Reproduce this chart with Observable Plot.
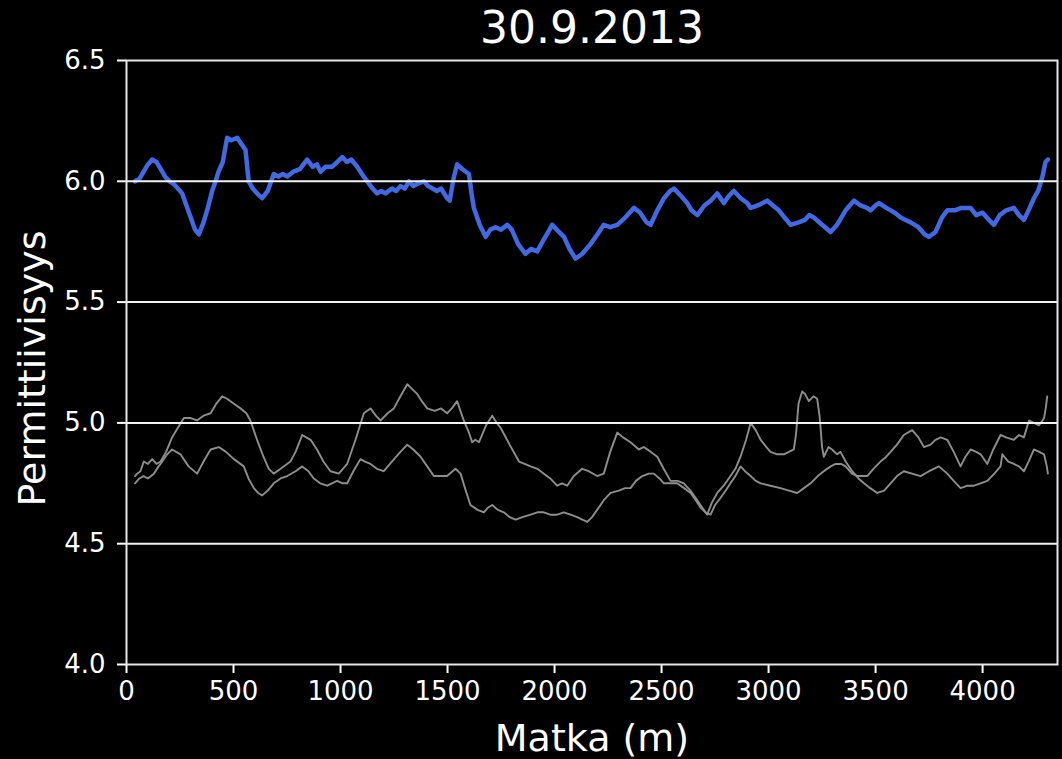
<!DOCTYPE html>
<html>
<head>
<meta charset="utf-8">
<script src="https://cdn.jsdelivr.net/npm/d3@7"></script>
<script src="https://cdn.jsdelivr.net/npm/@observablehq/plot@0.6"></script>
<style>
  html, body { margin: 0; padding: 0; background: #000; }
  #chart svg [aria-label^="x-axis"] path,
  #chart svg [aria-label^="y-axis"] path { stroke-width: 2px; }
</style>
</head>
<body>
<div id="chart"></div>
<script>
// Permittivity measured along the route, 30.9.2013
const titleText = "30.9.2013";
const xLabel = "Matka (m)";
const yLabel = "Permittiivisyys";

const xTicks = [0, 500, 1000, 1500, 2000, 2500, 3000, 3500, 4000];
const yTicks = [4.0, 4.5, 5.0, 5.5, 6.0, 6.5];
const gridLevels = [4.5, 5.0, 5.5, 6.0];

// Main series (blue)
const blueDist = [40,60,80,100,120,140,160,180,200,220,240,260,280,300,320,338,360,380,400,416,430,450,470,490,517,540,556,565,571,590,610,634,660,688,710,730,751,780,810,844,870,890,907,930,960,985,1008,1030,1050,1078,1100,1125,1150,1171,1190,1210,1240,1260,1280,1300,1320,1340,1360,1389,1410,1430,1450,1470,1498,1510,1530,1545,1570,1600,1612,1623,1650,1678,1700,1724,1750,1779,1800,1830,1864,1890,1919,1950,1970,1989,2010,2044,2070,2098,2130,2168,2200,2230,2260,2293,2330,2371,2400,2430,2449,2480,2511,2540,2558,2590,2620,2640,2667,2700,2730,2760,2791,2815,2838,2870,2900,2916,2950,2994,3020,3048,3075,3103,3140,3170,3190,3212,3250,3290,3320,3360,3399,3430,3460,3477,3500,3516,3550,3590,3617,3640,3664,3700,3730,3749,3780,3810,3835,3870,3900,3944,3970,4000,4030,4053,4080,4110,4146,4170,4193,4220,4240,4260,4280,4294,4305];
const blueVal = [6.00,6.01,6.04,6.07,6.09,6.08,6.05,6.02,6.00,5.99,5.97,5.95,5.90,5.85,5.80,5.78,5.83,5.89,5.96,6.00,6.04,6.08,6.18,6.17,6.18,6.15,6.13,6.05,6.00,5.97,5.95,5.93,5.96,6.03,6.02,6.03,6.02,6.04,6.05,6.09,6.06,6.07,6.04,6.06,6.06,6.08,6.10,6.08,6.09,6.06,6.03,6.00,5.97,5.95,5.96,5.95,5.97,5.96,5.98,5.97,6.00,5.98,5.99,6.00,5.98,5.97,5.96,5.97,5.93,5.92,6.02,6.07,6.05,6.03,5.95,5.89,5.82,5.77,5.80,5.81,5.80,5.82,5.80,5.74,5.70,5.72,5.71,5.76,5.79,5.82,5.80,5.77,5.72,5.68,5.70,5.74,5.78,5.82,5.81,5.82,5.85,5.89,5.87,5.83,5.82,5.88,5.93,5.96,5.97,5.94,5.91,5.88,5.86,5.90,5.92,5.95,5.91,5.94,5.96,5.93,5.91,5.89,5.90,5.92,5.90,5.88,5.85,5.82,5.83,5.84,5.86,5.85,5.82,5.79,5.82,5.88,5.92,5.90,5.89,5.88,5.90,5.91,5.89,5.87,5.85,5.84,5.83,5.81,5.78,5.77,5.79,5.85,5.88,5.88,5.89,5.89,5.86,5.87,5.84,5.82,5.86,5.88,5.89,5.86,5.84,5.89,5.93,5.96,6.02,6.08,6.09];

// Reference series (grey), first
const greyADist = [40,50,65,81,100,120,140,159,185,213,240,268,300,330,345,360,393,420,447,470,500,533,560,579,610,640,665,688,720,766,790,821,840,860,890,920,953,992,1031,1070,1109,1140,1165,1187,1220,1249,1280,1312,1335,1358,1380,1405,1440,1470,1498,1520,1545,1560,1576,1600,1615,1630,1647,1680,1709,1730,1748,1790,1834,1860,1888,1920,1950,1980,2012,2035,2059,2090,2129,2160,2199,2230,2260,2293,2320,2355,2394,2417,2450,2480,2510,2542,2575,2604,2635,2667,2690,2713,2735,2760,2790,2822,2845,2869,2895,2916,2940,2963,2990,3009,3040,3072,3095,3118,3128,3140,3157,3170,3188,3210,3227,3238,3243,3250,3258,3280,3297,3320,3336,3360,3391,3420,3446,3475,3508,3540,3570,3600,3632,3670,3710,3750,3796,3835,3865,3897,3930,3960,3990,4022,4055,4084,4092,4120,4146,4170,4193,4215,4240,4265,4287,4300,4305];
const greyAVal = [4.78,4.79,4.80,4.84,4.83,4.85,4.83,4.84,4.88,4.94,4.98,5.02,5.02,5.01,5.02,5.03,5.04,5.08,5.11,5.10,5.08,5.06,5.04,5.01,4.93,4.86,4.81,4.79,4.81,4.84,4.88,4.95,4.94,4.93,4.89,4.84,4.80,4.79,4.83,4.93,5.04,5.06,5.03,5.01,5.04,5.06,5.11,5.16,5.14,5.12,5.09,5.06,5.05,5.06,5.04,5.06,5.09,5.05,5.01,4.96,4.92,4.93,4.92,4.99,5.03,5.00,4.98,4.91,4.84,4.83,4.82,4.81,4.79,4.77,4.74,4.75,4.74,4.78,4.81,4.80,4.78,4.79,4.88,4.96,4.94,4.92,4.89,4.90,4.88,4.86,4.81,4.76,4.76,4.75,4.72,4.68,4.65,4.62,4.67,4.71,4.74,4.78,4.81,4.86,4.93,5.00,4.97,4.93,4.90,4.88,4.87,4.87,4.88,4.89,4.95,5.08,5.13,5.12,5.09,5.11,5.10,5.03,4.98,4.90,4.86,4.90,4.89,4.87,4.88,4.84,4.80,4.77,4.75,4.73,4.71,4.72,4.75,4.78,4.80,4.79,4.78,4.80,4.82,4.79,4.76,4.73,4.74,4.74,4.75,4.76,4.79,4.82,4.87,4.84,4.83,4.82,4.80,4.84,4.89,4.88,4.87,4.82,4.79];

// Reference series (grey), second
const greyBDist = [40,60,80,100,128,150,167,190,213,232,252,290,330,360,393,431,465,502,548,570,595,615,634,660,688,720,751,790,821,850,875,905,938,960,984,1010,1031,1060,1093,1115,1140,1170,1202,1240,1280,1312,1340,1374,1405,1436,1470,1498,1537,1561,1585,1607,1640,1670,1690,1709,1735,1763,1790,1818,1850,1888,1920,1950,1980,2012,2043,2075,2106,2130,2153,2175,2199,2230,2262,2300,2330,2355,2380,2410,2440,2464,2490,2511,2540,2573,2605,2636,2660,2682,2705,2729,2750,2776,2800,2822,2845,2869,2890,2916,2940,2963,3009,3056,3095,3134,3165,3196,3230,3258,3290,3313,3340,3360,3390,3414,3461,3490,3523,3550,3570,3600,3632,3671,3700,3726,3757,3780,3804,3835,3865,3897,3920,3944,3970,3991,4022,4050,4084,4110,4146,4170,4193,4217,4240,4263,4280,4287,4295,4302];
const greyBVal = [4.75,4.77,4.78,4.77,4.79,4.82,4.84,4.87,4.89,4.88,4.87,4.82,4.79,4.84,4.89,4.90,4.88,4.85,4.82,4.77,4.73,4.71,4.70,4.72,4.75,4.77,4.78,4.80,4.82,4.80,4.77,4.75,4.74,4.75,4.76,4.75,4.75,4.80,4.85,4.84,4.83,4.81,4.80,4.84,4.88,4.91,4.89,4.86,4.82,4.78,4.78,4.78,4.81,4.79,4.72,4.66,4.64,4.63,4.65,4.66,4.64,4.63,4.61,4.60,4.61,4.62,4.63,4.63,4.62,4.62,4.63,4.62,4.61,4.60,4.59,4.61,4.64,4.68,4.71,4.72,4.73,4.73,4.76,4.78,4.79,4.79,4.77,4.75,4.75,4.75,4.73,4.71,4.68,4.65,4.63,4.62,4.66,4.69,4.72,4.75,4.78,4.82,4.80,4.78,4.76,4.75,4.74,4.73,4.72,4.71,4.73,4.75,4.78,4.80,4.82,4.83,4.83,4.82,4.79,4.78,4.78,4.81,4.84,4.86,4.88,4.91,4.95,4.97,4.94,4.90,4.91,4.93,4.94,4.93,4.88,4.82,4.86,4.89,4.88,4.87,4.83,4.89,4.95,4.94,4.93,4.95,4.94,5.01,5.00,4.99,5.01,5.02,5.06,5.11];

const toRows = (xs, ys) => xs.map((d, i) => ({d, v: ys[i]}));
const blue = toRows(blueDist, blueVal);
const greyA = toRows(greyADist, greyAVal);
const greyB = toRows(greyBDist, greyBVal);

const font = "DejaVu Sans";

const chart = Plot.plot({
  width: 1062,
  height: 759,
  marginLeft: 126,
  marginRight: 5,
  marginTop: 60,
  marginBottom: 95,
  style: {background: "#000", color: "#fff", fontFamily: font, fontSize: "26px"},
  x: {domain: [0, 4350], ticks: xTicks, tickSize: 9, tickPadding: 8, label: null, tickFormat: d3.format("d")},
  y: {domain: [4, 6.5], ticks: yTicks, tickSize: 9, tickPadding: 12, label: null, tickFormat: d3.format(".1f")},
  marks: [
    Plot.line(greyA, {x: "d", y: "v", stroke: "#8e8e8e", strokeWidth: 1.9}),
    Plot.line(greyB, {x: "d", y: "v", stroke: "#8e8e8e", strokeWidth: 1.9}),
    Plot.line(blue, {x: "d", y: "v", stroke: "#4169e1", strokeWidth: 4.5}),
    Plot.ruleY(gridLevels, {stroke: "#f2f2f2", strokeWidth: 2}),
    Plot.frame({stroke: "#e6e6e6", strokeWidth: 2}),
    Plot.text([titleText], {text: d => d, frameAnchor: "top", lineAnchor: "middle", textAnchor: "middle", dy: -32, fontSize: 44, fill: "#fff"}),
    Plot.text([xLabel], {text: d => d, frameAnchor: "bottom", lineAnchor: "middle", textAnchor: "middle", dy: 74, fontSize: 38, fill: "#fff"}),
    Plot.text([yLabel], {text: d => d, frameAnchor: "left", lineAnchor: "middle", textAnchor: "middle", dx: -94, dy: 6, rotate: -90, fontSize: 38, fill: "#fff"})
  ]
});

document.getElementById("chart").appendChild(chart);
</script>
</body>
</html>
